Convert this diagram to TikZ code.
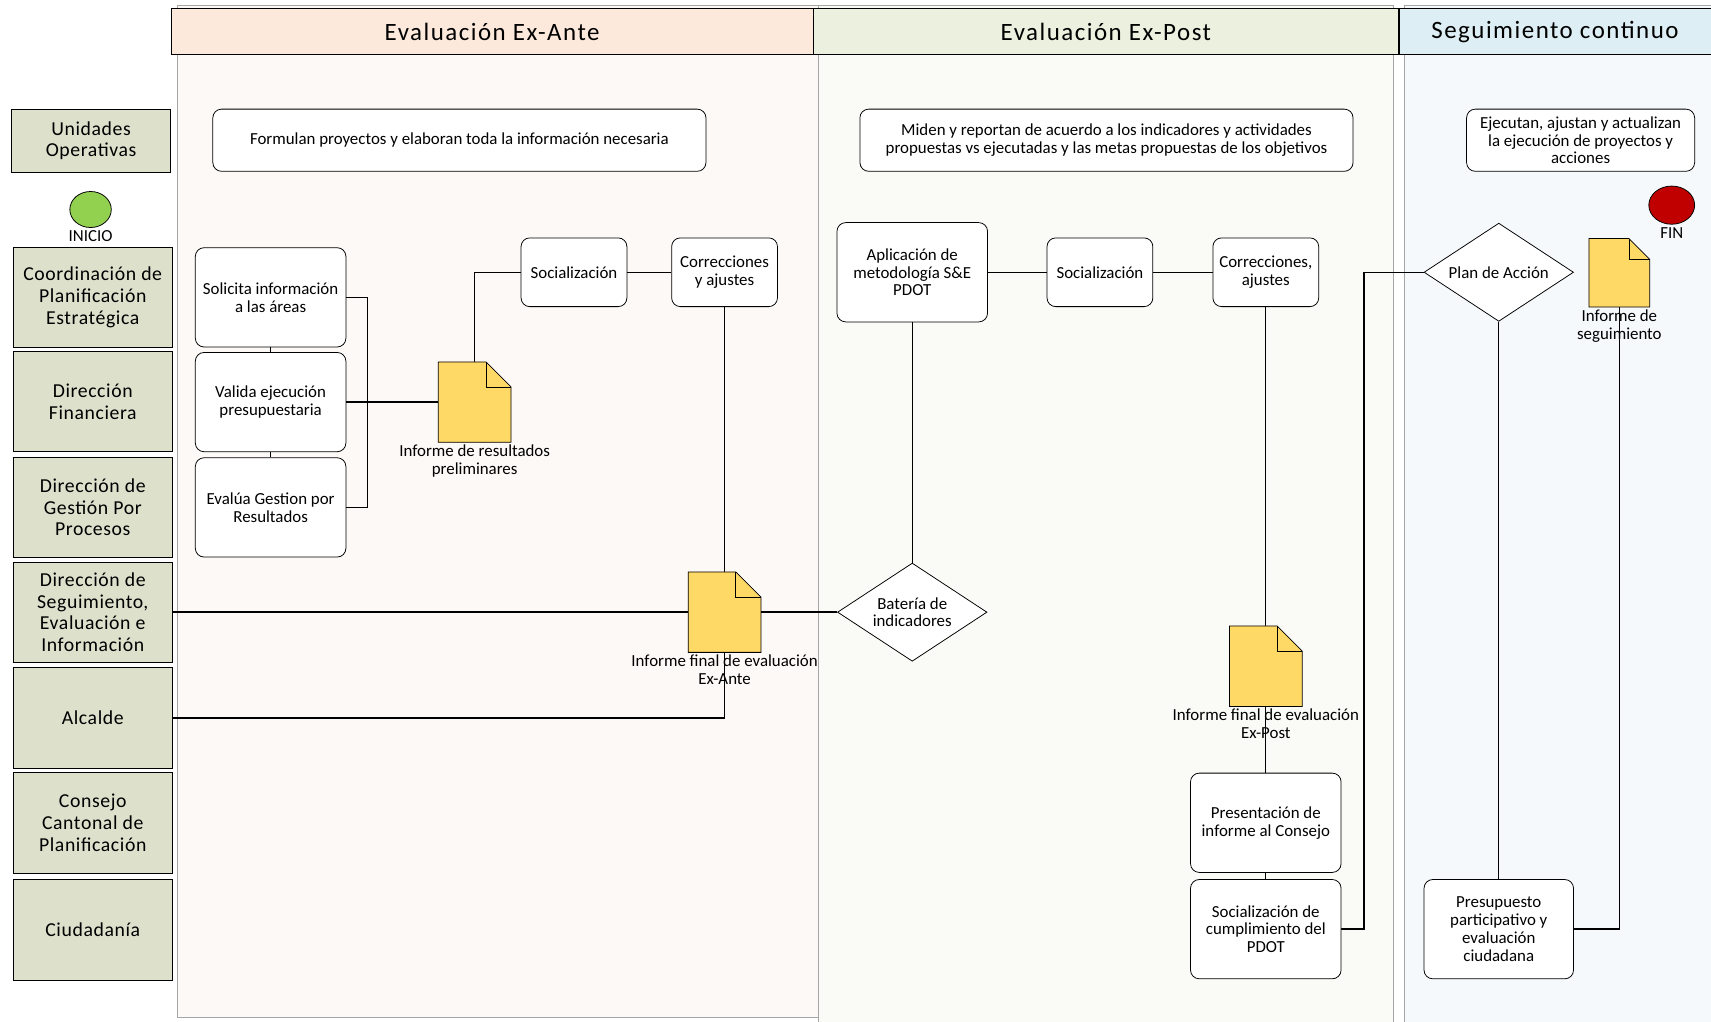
\documentclass[tikz,border=0pt]{standalone}
\usepackage{fontspec}
\setmainfont{Carlito}
\newfontfamily\headfont[LetterSpace=6]{Carlito}
\newfontfamily\lanefont[LetterSpace=3]{Carlito}
\usetikzlibrary{shapes.geometric}
\pgfdeclarelayer{back}
\pgfdeclarelayer{bg}
\pgfsetlayers{back,bg,main}
\definecolor{anteback}{HTML}{FDF9F6}
\definecolor{postback}{HTML}{FAFBF7}
\definecolor{segback}{HTML}{F5F9FB}
\definecolor{antehead}{HTML}{FCE9DC}
\definecolor{posthead}{HTML}{EBF1DE}
\definecolor{seghead}{HTML}{DDEEF4}
\definecolor{lanefill}{HTML}{DDE1CC}
\definecolor{docyellow}{HTML}{FFD966}
\definecolor{startgreen}{HTML}{92D050}
\definecolor{endred}{HTML}{C00000}
\definecolor{colgray}{HTML}{A6A6A6}
\newcommand{\docsheet}[2][4.6mm]{%
    \draw [fill=docyellow] (#2.south west) -- (#2.north west) -- ([xshift=-#1]#2.north east) -- ([yshift=-#1]#2.north east) -- (#2.south east) -- cycle;
    \draw ([xshift=-#1]#2.north east) |- ([yshift=-#1]#2.north east);}
\tikzset{every label/.style={shape=rectangle, draw=none, fill=none, inner sep=0.4mm, align=center, font=\fontsize{8.8}{9.3}\selectfont}}
\tikzset{
    phase/.style={rectangle, draw, inner sep=0mm, minimum height=0.84cm, font=\headfont\fontsize{13}{16}\selectfont},
    lane/.style={rectangle, draw, fill=lanefill, inner sep=0mm, minimum width=2.92cm, minimum height=1.84cm, align=center, font=\lanefont\fontsize{10.3}{11.3}\selectfont},
    task/.style={rectangle, rounded corners=1.6mm, draw, fill=white, inner sep=0mm, minimum width=2.76cm, minimum height=1.82cm, align=center, font=\fontsize{8.8}{9.3}\selectfont},
    smalltask/.style={task, minimum width=1.94cm, minimum height=1.26cm},
    notebox/.style={task, minimum height=1.14cm},
    decision/.style={diamond, aspect=1.5, draw, fill=white, inner sep=0mm, minimum width=2.74cm, minimum height=1.8cm, align=center, font=\fontsize{8.8}{9.3}\selectfont},
    terminal/.style={ellipse, draw, inner sep=0mm, minimum width=0.76cm, minimum height=0.66cm},
    doc/.style={rectangle, inner sep=0mm, minimum width=1.32cm, minimum height=1.46cm},
    flow/.style={line width=0.7pt}
}
\begin{document}
\begin{tikzpicture}[x=0.02cm, y=-0.02cm]
        \useasboundingbox (0,0) rectangle (1568,936);
        \begin{pgfonlayer}{back}
                \filldraw[fill=anteback, draw=colgray] (163,5) rectangle (750,932);
                \filldraw[fill=postback, draw=colgray] (750,5) rectangle (1277,945);
                \filldraw[fill=segback, draw=colgray] (1287,5) rectangle (1580,945);
        \end{pgfonlayer}
        \node (hante) [phase, fill=antehead, minimum width=11.76cm] at (451,29) {Evaluación Ex-Ante};
        \node (hpost) [phase, fill=posthead, minimum width=10.74cm] at (1013.5,29) {Evaluación Ex-Post};
        \node (hseg) [phase, fill=seghead, minimum width=5.72cm] at (1425,29) {Seguimiento continuo};
        \node (uo) [lane, minimum height=1.16cm] at (83.5,129) {Unidades\\Operativas};
        \node (inicio) [terminal, fill=startgreen, label=below:{INICIO}] at (83,192) {};
        \node (cpe) [lane] at (85,272.5) {Coordinación de\\Planificación\\Estratégica};
        \node (dfin) [lane] at (85,368) {Dirección\\Financiera};
        \node (dgp) [lane] at (85,465) {Dirección de\\Gestión Por\\Procesos};
        \node (dsei) [lane] at (85,561) {Dirección de\\Seguimiento,\\Evaluación e\\Información};
        \node (alc) [lane] at (85,658) {Alcalde};
        \node (cccp) [lane] at (85,754) {Consejo\\Cantonal de\\Planificación};
        \node (ciu) [lane] at (85,852) {Ciudadanía};
        \node (formulan) [notebox, minimum width=9.04cm] at (421,128.5) {Formulan proyectos y elaboran toda la información necesaria};
        \node (solicita) [task] at (248,272.5) {Solicita información\\a las áreas};
        \node (valida) [task] at (248,368.5) {Valida ejecución\\presupuestaria};
        \node (evalua) [task] at (248,465) {Evalúa Gestion por\\Resultados};
        \coordinate (brk) at (337,368.5);
        \node (infprel) [doc, label=below:{Informe de resultados\\preliminares}] at (435,368.5) {};
        \node (soc1) [smalltask] at (526,249.5) {Socialización};
        \node (corr1) [smalltask] at (664,249.5) {Correcciones\\y ajustes};
        \node (infante) [doc, label=below:{Informe final de evaluación\\Ex-Ante}] at (664,561) {};
        \node (miden) [notebox, minimum width=9.04cm] at (1014,128.5) {Miden y reportan de acuerdo a los indicadores y actividades\\propuestas vs ejecutadas y las metas propuestas de los objetivos};
        \node (aplic) [task] at (836,249.5) {Aplicación de\\metodología S\&E\\PDOT};
        \node (soc2) [smalltask] at (1008,249.5) {Socialización};
        \node (corr2) [smalltask] at (1160,249.5) {Correcciones,\\ajustes};
        \node (bateria) [decision] at (836,561) {Batería de\\indicadores};
        \node (infpost) [doc, label=below:{Informe final de evaluación\\Ex-Post}] at (1160,610.5) {};
        \node (present) [task] at (1160,754) {Presentación de\\informe al Consejo};
        \node (soccump) [task] at (1160,851.5) {Socialización de\\cumplimiento del\\PDOT};
        \coordinate (rise) at (1250,550);
        \node (ejecutan) [notebox, minimum width=4.18cm] at (1448.5,128.5) {Ejecutan, ajustan y actualizan\\la ejecución de proyectos y\\acciones};
        \node (fin) [terminal, fill=endred, minimum width=0.84cm, minimum height=0.7cm, label=below:{FIN}] at (1532,188) {};
        \node (plan) [decision] at (1373.5,249.5) {Plan de Acción};
        \node (infseg) [doc, minimum width=1.1cm, minimum height=1.24cm, label=below:{Informe de\\seguimiento}] at (1484,250) {};
        \node (presup) [task, minimum width=2.74cm] at (1373.5,851.5) {Presupuesto\\participativo y\\evaluación\\ciudadana};
        \docsheet{infprel}
        \docsheet{infante}
        \docsheet{infpost}
        \docsheet[3.8mm]{infseg}
        \begin{pgfonlayer}{bg}
                \draw [flow] (solicita) -- (valida);
                \draw [flow] (valida) -- (evalua);
                \draw [flow] (solicita.east) -| (brk) |- (evalua.east);
                \draw [flow] (valida.east) -- (infprel.west);
                \draw [flow] (infprel.north) |- (soc1.west);
                \draw [flow] (soc1) -- (corr1);
                \draw [flow] (corr1) -- (infante);
                \draw [flow] (dsei.east) -- (infante.west);
                \draw [flow] (infante.south) |- (alc.east);
                \draw [flow] (infante.east) -- (bateria.west);
                \draw [flow] (aplic) -- (soc2);
                \draw [flow] (soc2) -- (corr2);
                \draw [flow] (aplic) -- (bateria);
                \draw [flow] (corr2) -- (infpost);
                \draw [flow] (infpost) -- (present);
                \draw [flow] (present) -- (soccump);
                \draw [flow] (soccump.east) -| (rise) |- (plan.west);
                \draw [flow] (plan) -- (presup);
                \draw [flow] (presup.east) -| (infseg.south);
        \end{pgfonlayer}
\end{tikzpicture}
\end{document}
